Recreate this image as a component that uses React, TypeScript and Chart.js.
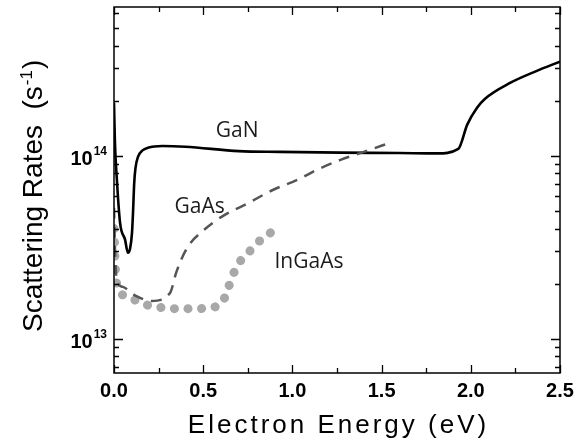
import React, { useEffect, useRef } from "react";
import { Chart, registerables } from "chart.js";

Chart.register(...registerables);

// ---- data ----
const ganEnergy = [0, 0.005, 0.015, 0.034, 0.062, 0.078, 0.09, 0.101, 0.107, 0.113, 0.12, 0.135, 0.16, 0.19, 0.27, 0.4, 0.7, 0.93, 1.27, 1.6, 1.81, 1.93, 1.98, 2.035, 2.08, 2.22, 2.37, 2.5];
const ganRate = [1.95e14, 1.2e14, 7.7e13, 4.3e13, 3.48e13, 2.95e13, 3.1e13, 3.8e13, 5.0e13, 7.0e13, 8.5e13, 9.9e13, 1.07e14, 1.106e14, 1.13e14, 1.12e14, 1.06e14, 1.05e14, 1.04e14, 1.035e14, 1.03e14, 1.09e14, 1.48e14, 1.83e14, 2.05e14, 2.5e14, 2.91e14, 3.27e14];

const gaasEnergy = [0, 0.005, 0.015, 0.05, 0.12, 0.21, 0.314, 0.35, 0.41, 0.5, 0.605, 0.75, 0.89, 1.03, 1.14, 1.27, 1.4, 1.55];
const gaasRate = [5.2e13, 3.2e13, 2.1e13, 1.92e13, 1.72e13, 1.61e13, 1.78e13, 2.32e13, 3.14e13, 3.9e13, 4.65e13, 5.5e13, 6.5e13, 7.4e13, 8.4e13, 9.5e13, 1.05e14, 1.18e14];

const ingaasEnergy = [0, 0.008, 0.02, 0.078, 0.163, 0.235, 0.314, 0.387, 0.465, 0.538, 0.605, 0.639, 0.667, 0.706, 0.774, 0.835, 0.93];
const ingaasRate = [4.0e13, 2.4e13, 1.9e13, 1.7e13, 1.55e13, 1.5e13, 1.46e13, 1.46e13, 1.46e13, 1.48e13, 1.57e13, 1.88e13, 2.24e13, 2.64e13, 3.1e13, 3.56e13, 4.05e13];

const xTickValues = [0, 0.5, 1.0, 1.5, 2.0, 2.5];
const xTickLabels = ["0.0", "0.5", "1.0", "1.5", "2.0", "2.5"];
const xMinorValues = [0.25, 0.75, 1.25, 1.75, 2.25];
const yDecades = [13, 14];

const seriesNames = ["GaN", "GaAs", "InGaAs"];

// label anchors in data coordinates (energy, rate) – baseline centre
const labelAnchors = [
  { x: 0.69, y: 1.27e14 },
  { x: 0.48, y: 4.89e13 },
  { x: 1.093, y: 2.44e13 },
];

const X_MIN = 0;
const X_MAX = 2.5;
const Y_MIN = 6.5e12;
const Y_MAX = 6.5e14;

const toPoints = (xs: number[], ys: number[]) => xs.map((x, i) => ({ x, y: ys[i] }));

const paperPlugin = {
  id: "paperAxes",
  afterDatasetsDraw(chart: any) {
    const { ctx, chartArea: a, scales } = chart;
    const x = scales.x;
    const y = scales.y;
    ctx.save();

    // series labels
    ctx.fillStyle = "#1b1b1b";
    ctx.font = '21px "Open Sans"';
    ctx.textAlign = "center";
    ctx.textBaseline = "alphabetic";
    seriesNames.forEach((name, i) => {
      const p = labelAnchors[i];
      ctx.fillText(name, x.getPixelForValue(p.x), y.getPixelForValue(p.y));
    });

    // frame
    ctx.strokeStyle = "#000";
    ctx.lineWidth = 1.5;
    ctx.strokeRect(a.left, a.top, a.right - a.left, a.bottom - a.top);

    // x ticks (inward, bottom and top)
    ctx.lineWidth = 1.3;
    const drawX = (v: number, len: number) => {
      const px = Math.round(x.getPixelForValue(v)) + 0.5;
      ctx.beginPath();
      ctx.moveTo(px, a.bottom);
      ctx.lineTo(px, a.bottom - len);
      ctx.moveTo(px, a.top);
      ctx.lineTo(px, a.top + len);
      ctx.stroke();
    };
    xTickValues.forEach((v) => drawX(v, 8));
    xMinorValues.forEach((v) => drawX(v, 5));

    // y ticks (inward, left and right)
    for (let d = 12; d <= 14; d++) {
      for (let m = 1; m <= 9; m++) {
        const v = m * Math.pow(10, d);
        if (v < Y_MIN || v > Y_MAX) continue;
        const py = Math.round(y.getPixelForValue(v)) + 0.5;
        const len = m === 1 ? 9 : 5;
        ctx.beginPath();
        ctx.moveTo(a.left, py);
        ctx.lineTo(a.left + len, py);
        ctx.moveTo(a.right, py);
        ctx.lineTo(a.right - len, py);
        ctx.stroke();
      }
    }

    // x tick labels
    ctx.fillStyle = "#000";
    ctx.font = 'bold 20px "Liberation Sans", Arial, sans-serif';
    ctx.textAlign = "center";
    xTickValues.forEach((v, i) => {
      ctx.fillText(xTickLabels[i], x.getPixelForValue(v), a.bottom + 24);
    });

    // y tick labels 10^n
    yDecades.forEach((e) => {
      const py = y.getPixelForValue(Math.pow(10, e));
      const right = a.left - 7;
      ctx.textAlign = "right";
      ctx.font = 'bold 12px "Liberation Sans", Arial, sans-serif';
      const sup = String(e);
      const supW = ctx.measureText(sup).width;
      ctx.fillText(sup, right, py - 1);
      ctx.font = 'bold 20px "Liberation Sans", Arial, sans-serif';
      ctx.fillText("10", right - supW - 1, py + 9);
    });

    // x axis title
    ctx.font = '26px "Liberation Sans", Arial, sans-serif';
    ctx.textAlign = "center";
    (ctx as any).letterSpacing = "3px";
    ctx.fillText("Electron Energy (eV)", (a.left + a.right) / 2 + 1.5, 433);
    (ctx as any).letterSpacing = "0px";

    // y axis title (rotated)
    ctx.translate(42, 332);
    ctx.rotate(-Math.PI / 2);
    ctx.textAlign = "left";
    ctx.font = '28px "Liberation Sans", Arial, sans-serif';
    const main = "Scattering Rates  (s";
    const w1 = ctx.measureText(main).width;
    ctx.fillText(main, 0, 0);
    ctx.font = '17px "Liberation Sans", Arial, sans-serif';
    const supT = "-1";
    const w2 = ctx.measureText(supT).width;
    ctx.fillText(supT, w1 + 1, -10);
    ctx.font = '28px "Liberation Sans", Arial, sans-serif';
    ctx.fillText(")", w1 + w2 + 2, 0);

    ctx.restore();
  },
};

export default function App() {
  const canvasRef = useRef<HTMLCanvasElement | null>(null);

  useEffect(() => {
    if (!canvasRef.current) return;
    const chart = new Chart(canvasRef.current, {
      type: "line",
      data: {
        datasets: [
          {
            label: "GaAs",
            data: toPoints(gaasEnergy, gaasRate),
            borderColor: "#555555",
            borderWidth: 2.5,
            borderDash: [11, 8],
            cubicInterpolationMode: "monotone",
            pointRadius: 0,
            fill: false,
          },
          {
            label: "InGaAs",
            data: toPoints(ingaasEnergy, ingaasRate),
            borderColor: "#a8a8a8",
            borderWidth: 9,
            borderDash: [0.1, 13.5],
            borderCapStyle: "round",
            cubicInterpolationMode: "monotone",
            pointRadius: 0,
            fill: false,
          },
          {
            label: "GaN",
            data: toPoints(ganEnergy, ganRate),
            borderColor: "#000000",
            borderWidth: 2.6,
            cubicInterpolationMode: "monotone",
            pointRadius: 0,
            fill: false,
          },
        ],
      },
      options: {
        animation: false,
        responsive: false,
        devicePixelRatio: 1,
        layout: { padding: { left: 114, right: 16, top: 7, bottom: 68 } },
        plugins: { legend: { display: false }, tooltip: { enabled: false } },
        scales: {
          x: { type: "linear", min: X_MIN, max: X_MAX, display: false },
          y: { type: "logarithmic", min: Y_MIN, max: Y_MAX, display: false },
        },
      },
      plugins: [paperPlugin],
    } as any);
    return () => chart.destroy();
  }, []);

  return (
    <div style={{ position: "fixed", left: 0, top: 0, width: 576, height: 441, background: "#fff" }}>
      <canvas ref={canvasRef} width={576} height={441} style={{ width: 576, height: 441, display: "block" }} />
    </div>
  );
}
